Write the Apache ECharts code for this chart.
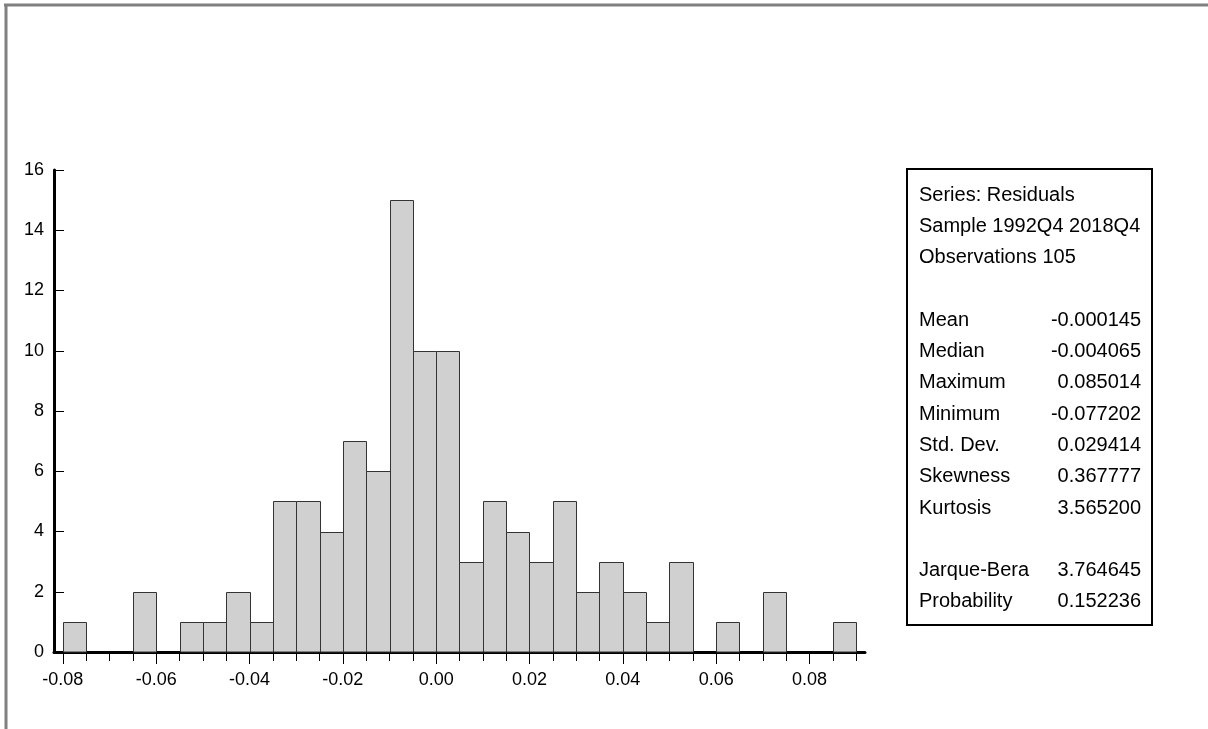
<!DOCTYPE html>
<html><head><meta charset="utf-8">
<script src="https://cdn.jsdelivr.net/npm/echarts@6/dist/echarts.min.js"></script>
<style>html,body{margin:0;padding:0;background:#fff}#c{width:1208px;height:729px}</style>
</head><body><div id="c"></div>
<script>
// ---- data ----
const binEdges = [-0.080,-0.075,-0.070,-0.065,-0.060,-0.055,-0.050,-0.045,-0.040,-0.035,
  -0.030,-0.025,-0.020,-0.015,-0.010,-0.005,0.000,0.005,0.010,0.015,0.020,0.025,0.030,
  0.035,0.040,0.045,0.050,0.055,0.060,0.065,0.070,0.075,0.080,0.085,0.090];
const counts = [1,0,0,2,0,1,1,2,1,5,5,4,7,6,15,10,10,3,5,4,3,5,2,3,2,1,3,0,1,0,2,0,0,1];
const xLabelValues = [-0.08,-0.06,-0.04,-0.02,0.00,0.02,0.04,0.06,0.08];
const yTickValues = [0,2,4,6,8,10,12,14,16];
const statsHeader = ['Series: Residuals','Sample 1992Q4 2018Q4','Observations 105'];
const statNames = ['Mean','Median','Maximum','Minimum','Std. Dev.','Skewness','Kurtosis'];
const statValues = ['-0.000145','-0.004065','0.085014','-0.077202','0.029414','0.367777','3.565200'];
const testNames = ['Jarque-Bera','Probability'];
const testValues = ['3.764645','0.152236'];

// ---- chart ----
const FONT = '"Liberation Sans", Arial, sans-serif';
const chart = echarts.init(document.getElementById('c'), null, {renderer:'canvas'});
const barData = counts.map((c,i)=>[binEdges[i], binEdges[i+1], c]);

const graphics = [
  {type:'line', shape:{x1:4,y1:5,x2:1208,y2:5}, style:{stroke:'#808080', lineWidth:3}, z:10},
  {type:'line', shape:{x1:6,y1:4,x2:6,y2:729}, style:{stroke:'#808080', lineWidth:3}, z:10},
  {type:'rect', shape:{x:907,y:169,width:245,height:456}, style:{fill:'none', stroke:'#000', lineWidth:2}, z:10}
];
const rowH = 31.3, row0 = 195, textL = 919, textR = 1141, FS = 20;
function addText(txt, row, right){
  graphics.push({type:'text', x: right ? textR : textL, y: row0 + row*rowH, z:11,
    style:{text:txt, font: FS+'px '+FONT, fill:'#000', align: right?'right':'left', verticalAlign:'middle'}});
}
statsHeader.forEach((t,i)=>addText(t,i,false));
statNames.forEach((t,i)=>{addText(t,4+i,false); addText(statValues[i],4+i,true);});
testNames.forEach((t,i)=>{addText(t,12+i,false); addText(testValues[i],12+i,true);});

const xCommon = {type:'value', min:-0.0819, max:0.0919, position:'bottom', splitLine:{show:false}};
chart.setOption({
  animation:false,
  backgroundColor:'#fff',
  grid:{left:54, right:343, top:170, bottom:77, containLabel:false},
  xAxis:[
    Object.assign({}, xCommon, {
      axisLine:{show:true, onZero:false, lineStyle:{color:'#000', width:3}},
      axisTick:{show:true, customValues:xLabelValues, length:12, lineStyle:{color:'#000', width:1}},
      axisLabel:{show:true, customValues:xLabelValues, margin:19, color:'#000', fontSize:18, fontFamily:FONT,
        formatter:v=>v.toFixed(2)}
    }),
    Object.assign({}, xCommon, {
      axisLine:{show:false},
      axisTick:{show:true, customValues:binEdges, length:9, lineStyle:{color:'#000', width:1}},
      axisLabel:{show:false}
    })
  ],
  yAxis:{type:'value', min:0, max:16, interval:2,
    axisLine:{show:true, onZero:false, lineStyle:{color:'#000', width:3}},
    axisTick:{show:true, inside:true, length:10, lineStyle:{color:'#000', width:1}},
    axisLabel:{color:'#000', fontSize:18, fontFamily:FONT, margin:10},
    splitLine:{show:false}},
  series:[{
    type:'custom', xAxisIndex:0, yAxisIndex:0,
    encode:{x:[0,1], y:2},
    data: barData,
    renderItem:(params, api)=>{
      const c = api.value(2);
      if (!c) return null;
      const p0 = api.coord([api.value(0), c]);
      const p1 = api.coord([api.value(1), 0]);
      const x0 = Math.round(p0[0]) + 0.5, x1 = Math.round(p1[0]) + 0.5;
      const y0 = Math.round(p0[1]) + 0.5, y1 = Math.round(p1[1]);
      return {type:'rect', shape:{x:x0, y:y0, width:x1-x0, height:y1-y0},
        style:{fill:'#d0d0d0', stroke:'#333', lineWidth:1}};
    }
  }],
  graphic: graphics
});
</script></body></html>
